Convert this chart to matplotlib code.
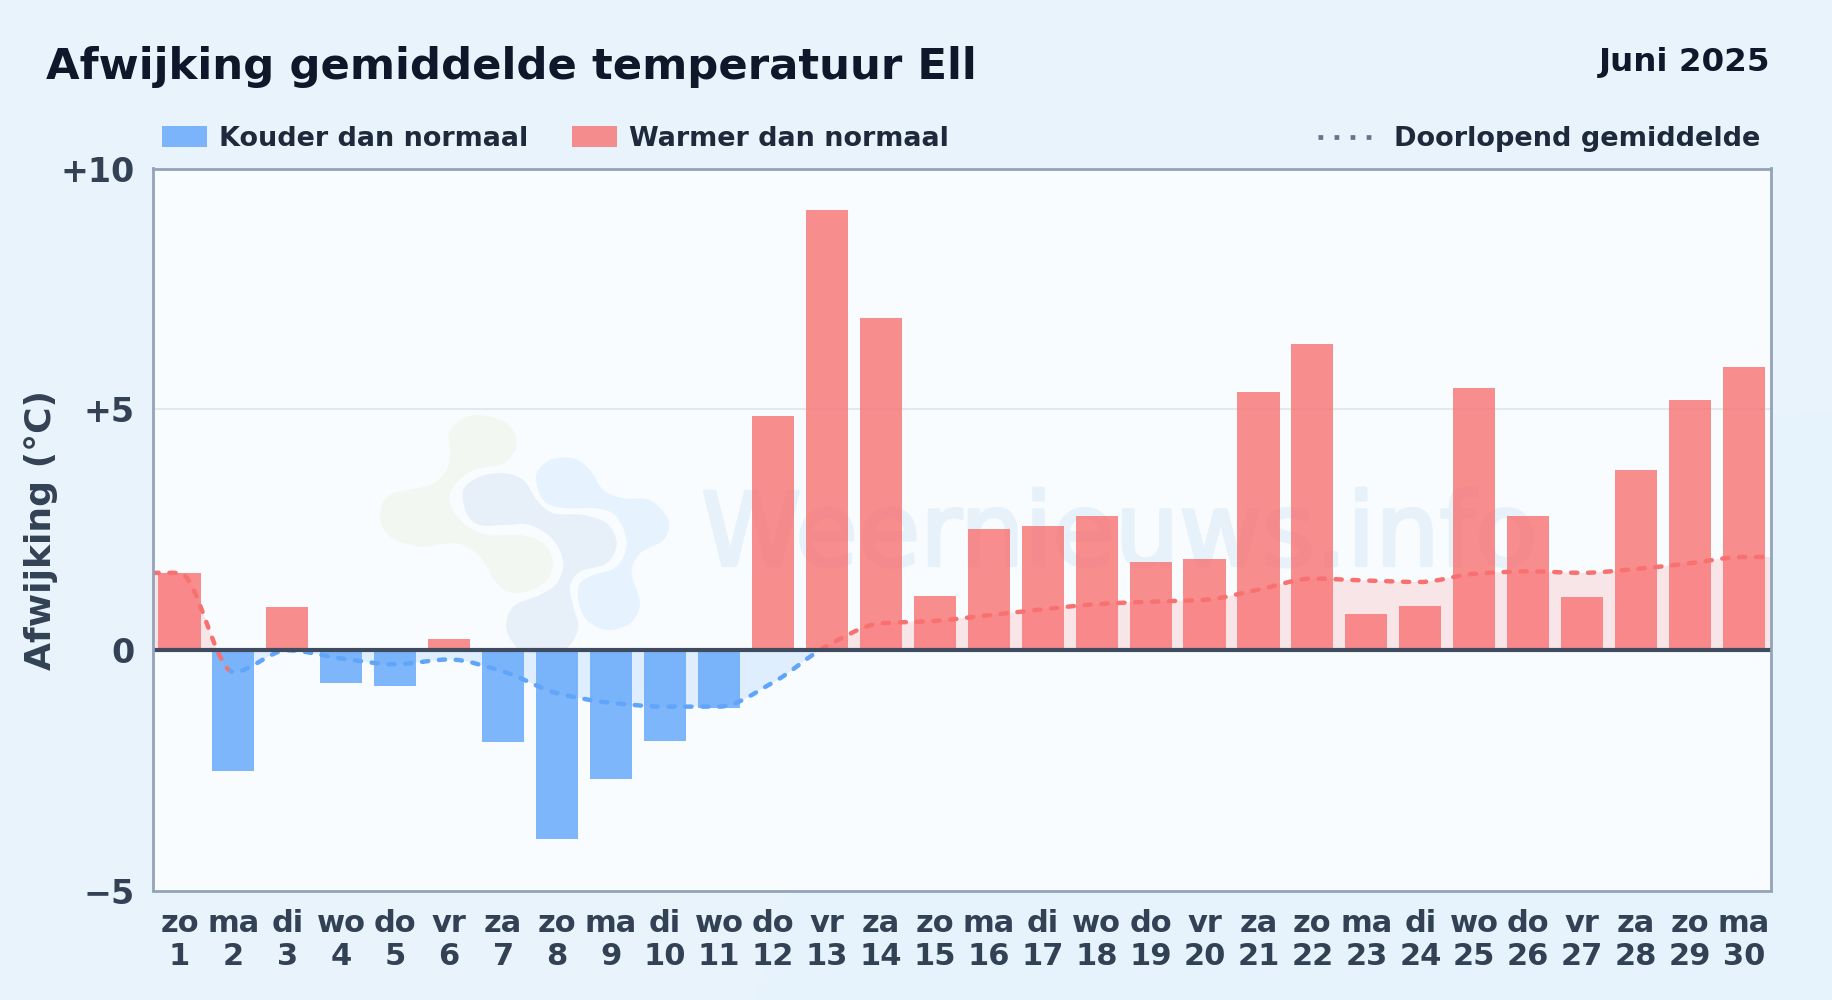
import matplotlib
matplotlib.use('Agg')
import numpy as np
import matplotlib.pyplot as plt
import matplotlib.patheffects as pe
from matplotlib.path import Path
from matplotlib.patches import PathPatch, Patch, Rectangle
from matplotlib.lines import Line2D
from matplotlib.transforms import Affine2D

weekdays = ['zo', 'ma', 'di', 'wo', 'do', 'vr', 'za', 'zo', 'ma', 'di', 'wo', 'do', 'vr', 'za', 'zo',
            'ma', 'di', 'wo', 'do', 'vr', 'za', 'zo', 'ma', 'di', 'wo', 'do', 'vr', 'za', 'zo', 'ma']
days = list(range(1, 31))
deviation = [1.60, -2.52, 0.90, -0.68, -0.75, 0.22, -1.92, -3.93, -2.69, -1.89, -1.21, 4.85, 9.13, 6.89, 1.12,
             2.52, 2.57, 2.79, 1.82, 1.89, 5.36, 6.36, 0.75, 0.92, 5.44, 2.79, 1.09, 3.74, 5.19, 5.87]
running_mean = [1.60, -0.46, -0.01, -0.18, -0.30, -0.20, -0.45, -0.90, -1.10, -1.18, -1.18, -0.68, 0.08, 0.55, 0.60,
                0.72, 0.84, 0.95, 1.00, 1.04, 1.25, 1.48, 1.44, 1.41, 1.58, 1.63, 1.60, 1.68, 1.80, 1.93]
y_ticks = [-5, 0, 5, 10]
y_tick_labels = ['\u22125', '0', '+5', '+10']

RED = '#f87171'
BLUE = '#60a5fa'
DARK = '#334155'
W, H = 1832, 1000


def smooth_path(xs, ys):
    # bezier through the points, tangents flattened at local extremes
    xs = np.asarray(xs, float)
    ys = np.asarray(ys, float)
    slopes = np.diff(ys) / np.diff(xs)
    m = np.zeros(len(xs))
    for i in range(1, len(xs) - 1):
        if slopes[i - 1] * slopes[i] > 0:
            m[i] = 2 * slopes[i - 1] * slopes[i] / (slopes[i - 1] + slopes[i])
    verts = [(xs[0], ys[0])]
    codes = [Path.MOVETO]
    for i in range(len(xs) - 1):
        d = (xs[i + 1] - xs[i]) / 3
        verts += [(xs[i] + d, ys[i] + m[i] * d), (xs[i + 1] - d, ys[i + 1] - m[i + 1] * d), (xs[i + 1], ys[i + 1])]
        codes += [Path.CURVE4] * 3
    return verts, codes


def blob(points, color):
    p = np.array(points, float)
    n = len(p)
    verts = [tuple(p[0])]
    codes = [Path.MOVETO]
    for i in range(n):
        p0, p1, p2, p3 = p[i - 1], p[i], p[(i + 1) % n], p[(i + 2) % n]
        verts += [tuple(p1 + (p2 - p0) / 6), tuple(p2 - (p3 - p1) / 6), tuple(p2)]
        codes += [Path.CURVE4] * 3
    to_px = Affine2D().scale(1 / 3).translate(340, 380).scale(1, -1).translate(0, H)
    ax.add_patch(PathPatch(Path(verts, codes), facecolor=color, edgecolor='none', transform=to_px, zorder=1))


fig = plt.figure(figsize=(W / 100, H / 100), dpi=100)

# page background
bg = fig.add_axes([0, 0, 1, 1], zorder=-1)
grad = np.array([[0.0, 0.5], [0.5, 1.0]])[..., None]
c1 = np.array([0xEA, 0xF4, 0xFD]) / 255
c2 = np.array([0xE7, 0xF3, 0xFC]) / 255
bg.imshow(grad * c2 + (1 - grad) * c1, extent=[0, 1, 0, 1], aspect='auto', interpolation='bicubic', origin='upper')
bg.axis('off')

left, right, top, bottom = 152.5, 1771, 168.5, 890.5
ax = fig.add_axes([left / W, 1 - bottom / H, (right - left) / W, (bottom - top) / H])
ax.set_facecolor('#f8fcff')
ax.set_xlim(0.5, 30.5)
ax.set_ylim(-5, 10)

# watermark
blob([(330, 150), (400, 105), (500, 130), (530, 195), (490, 250), (400, 270), (340, 320), (330, 370), (370, 430),
      (440, 465), (540, 465), (610, 490), (640, 550), (610, 610), (530, 640), (470, 610), (420, 530), (350, 490),
      (240, 500), (150, 470), (120, 410), (150, 345), (270, 315), (320, 270), (330, 210)], '#f2f8f1')
blob([(370, 330), (420, 290), (490, 280), (550, 300), (590, 360), (640, 400), (730, 405), (800, 430), (830, 490),
      (800, 550), (720, 575), (690, 620), (700, 680), (715, 740), (690, 795), (650, 815), (550, 815), (500, 750),
      (520, 680), (600, 645), (650, 610), (670, 550), (640, 480), (570, 435), (490, 435), (420, 435), (380, 400)],
     '#e7eff8')
blob([(590, 280), (630, 240), (700, 235), (750, 270), (790, 330), (850, 355), (930, 360), (985, 420), (970, 480),
      (900, 520), (875, 580), (900, 670), (870, 730), (800, 750), (740, 720), (715, 660), (720, 610), (760, 585),
      (830, 560), (860, 490), (830, 410), (770, 385), (680, 385), (620, 370), (595, 330)], '#e6f3fe')
ax.text(0.339, 0.489, 'Weernieuws.info', transform=ax.transAxes, fontsize=73, color='#e7f1fa', family='DejaVu Sans',
        ha='left', va='center', zorder=1, path_effects=[pe.withStroke(linewidth=2.5, foreground='#e7f1fa')])

# grid
ax.axhline(5, color='#e2e8f0', lw=1.5, zorder=1.5)

# running mean area + line, red above zero and blue below; held flat out to both axes edges
xs = [0.5] + days + [30.5]
ys = [running_mean[0]] + running_mean + [running_mean[-1]]
verts, codes = smooth_path(xs, ys)
closed = Path(verts + [(xs[-1], 0), (xs[0], 0), (xs[0], 0)], codes + [Path.LINETO, Path.LINETO, Path.CLOSEPOLY])
up = PathPatch(closed, facecolor=RED, alpha=0.16, edgecolor='none', zorder=2)
down = PathPatch(closed, facecolor=BLUE, alpha=0.16, edgecolor='none', zorder=2)
ax.add_patch(up)
ax.add_patch(down)
up.set_clip_path(Rectangle((0.5, 0), 30, 10, transform=ax.transData))
down.set_clip_path(Rectangle((0.5, -5), 30, 5, transform=ax.transData))

colors = [RED if v >= 0 else BLUE for v in deviation]
ax.bar(days, deviation, width=0.78, color=colors, alpha=0.8, linewidth=0, zorder=3)

line_style = dict(fill=False, lw=3.2, linestyle=(0, (1.4, 2.4)), capstyle='round', zorder=4)
path_line = Path(verts, codes)
red_part = PathPatch(path_line, edgecolor=RED, **line_style)
blue_part = PathPatch(path_line, edgecolor=BLUE, **line_style)
ax.add_patch(red_part)
ax.add_patch(blue_part)
# red runs on to just before day 2, blue takes over until the zero crossing after day 12
red_part.set_clip_path(Path([(0.5, -5), (1.92, -5), (1.92, 0), (30.5, 0), (30.5, 10), (0.5, 10), (0.5, -5)]),
                       ax.transData)
blue_part.set_clip_path(Rectangle((1.92, -5), 11, 5, transform=ax.transData))

ax.axhline(0, color='#3f4c60', lw=3, zorder=5)

for side in ax.spines.values():
    side.set_color('#94a3b8')
    side.set_linewidth(2)
    side.set_zorder(6)

ax.set_yticks(y_ticks)
ax.set_yticklabels(y_tick_labels, fontsize=24, fontweight='bold', color=DARK)
ax.set_xticks(days)
ax.set_xticklabels([f'{w}\n{d}' for w, d in zip(weekdays, days)], fontsize=22, fontweight='bold', color=DARK,
                   linespacing=1.2)
ax.tick_params(axis='y', length=0, pad=13)
ax.tick_params(axis='x', length=0, pad=13)
ax.set_ylabel('Afwijking (\u00b0C)', fontsize=26, fontweight='bold', color=DARK, va='center')
ax.yaxis.set_label_coords((41 - left) / (right - left), 0.5)

fig.text(46 / W, 1 - 67 / H, 'Afwijking gemiddelde temperatuur Ell', fontsize=31.2, fontweight='bold',
         color='#0f172a', ha='left', va='center')
fig.text(1770 / W, 1 - 62 / H, 'Juni 2025', fontsize=23.4, fontweight='bold', color='#0f172a', ha='right', va='center')

legend_left = fig.legend(handles=[Patch(facecolor=BLUE, alpha=0.8, label='Kouder dan normaal'),
                                  Patch(facecolor=RED, alpha=0.8, label='Warmer dan normaal')],
                         loc='center left', bbox_to_anchor=(138 / W, 1 - 139 / H), ncol=2, frameon=False,
                         prop={'size': 19.45, 'weight': 'bold'}, labelcolor='#1e293b', handlelength=1.65,
                         handleheight=0.8, handletextpad=0.46, columnspacing=1.62)
legend_right = fig.legend(handles=[Line2D([], [], color='#64748b', lw=3.4, linestyle=(0, (1, 2.4)),
                                          dash_capstyle='butt', label='Doorlopend gemiddelde')],
                          loc='center right', bbox_to_anchor=(1785 / W, 1 - 139 / H), frameon=False,
                          prop={'size': 19.5, 'weight': 'bold'}, labelcolor='#1e293b', handlelength=2.1,
                          handletextpad=0.72)

fig.savefig('out.png', dpi=100)
